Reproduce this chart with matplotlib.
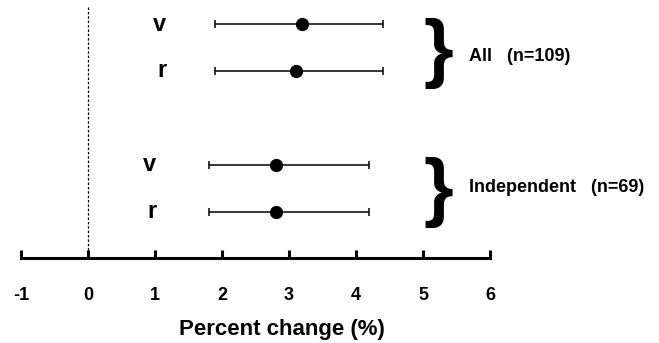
import matplotlib
matplotlib.use("Agg")
import matplotlib.pyplot as plt
import numpy as np

plt.rcParams['font.family'] = ['Liberation Sans', 'DejaVu Sans']
plt.rcParams['font.weight'] = 'bold'

# Data
row_labels = ["v", "r", "v", "r"]
row_pos = [1, 2, 4, 5]
means = np.array([3.2, 3.1, 2.8, 2.8])
lower = np.array([1.9, 1.9, 1.8, 1.8])
upper = np.array([4.4, 4.4, 4.2, 4.2])
group_names = ["All   (n=109)", "Independent   (n=69)"]
brace_y = [1.62, 4.58]
name_y = [1.70, 4.47]
xticks = [-1, 0, 1, 2, 3, 4, 5, 6]

fig = plt.figure(figsize=(6.59, 3.43), dpi=100)
ax = fig.add_axes([0, 0.2478, 1, 0.7522])
ax.set_xlim(-1.313, 8.522)
ax.set_ylim(5.98, 0.489)

ax.errorbar(means, row_pos, xerr=[means - lower, upper - means], fmt='o',
            color='black', ms=8.5, elinewidth=1.1, capsize=3, capthick=1.1,
            zorder=3)

ax.vlines(0, 0.64, 5.98, colors='black', linestyles=(0, (2, 1.5)), lw=0.9)

label_x = [1.17, 1.17, 1.02, 1.02]
for lx, y, t in zip(label_x, row_pos, row_labels):
    ax.text(lx, y, t, ha='right', va='center', fontsize=17, fontweight='bold')

for by, ny, name in zip(brace_y, name_y, group_names):
    ax.text(5.23, by, "}", ha='center', va='center', fontsize=55,
            fontweight='bold')
    ax.text(5.69, ny, name, ha='left', va='center', fontsize=13,
            fontweight='bold')

for s in ['top', 'right', 'left']:
    ax.spines[s].set_visible(False)
ax.spines['bottom'].set_bounds(-1, 6)
ax.spines['bottom'].set_linewidth(2.2)
ax.set_yticks([])
ax.set_xticks(xticks)
ax.set_xticklabels([str(t) for t in xticks], fontsize=13, fontweight='bold')
ax.tick_params(axis='x', direction='in', length=6, width=2.2, pad=21)
ax.set_xlabel("Percent change (%)", fontsize=16, fontweight='bold')
ax.xaxis.set_label_coords(282 / 659, -0.238)

fig.savefig("out.png", dpi=100)
